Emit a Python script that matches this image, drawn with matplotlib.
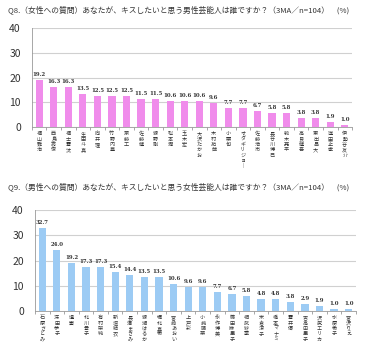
import numpy as np
import matplotlib
matplotlib.use("Agg")
import matplotlib.pyplot as plt

plt.rcParams['font.family'] = ['Noto Sans CJK JP', 'DejaVu Sans']

PINK = "#F08CEB"; BLUE = "#9CCBF4"; GRID = "#D0D0D0"; DARK = "#333333"

q8_title = "Q8.（女性への質問）あなたが、キスしたいと思う男性芸能人は誰ですか？（3MA／n=104）　(%)"
q8_names = ["福山雅治", "西島秀俊", "福士蒼汰", "生田斗真", "向井理", "竹野内豊", "斎藤工",
            "佐藤健", "綾野剛", "松本潤", "玉木宏", "大沢たかお", "木村拓哉", "小栗旬",
            "オダギリジョー", "佐藤浩市", "長谷川博己", "鈴木亮平", "高良健吾", "東出昌大",
            "窪田正孝", "伊勢谷友介"]
q8_vals = [19.2, 16.3, 16.3, 13.5, 12.5, 12.5, 12.5, 11.5, 11.5, 10.6, 10.6, 10.6,
           9.6, 7.7, 7.7, 6.7, 5.8, 5.8, 3.8, 3.8, 1.9, 1.0]

q9_title = "Q9.（男性への質問）あなたが、キスしたいと思う女性芸能人は誰ですか？（3MA／n=104）　(%)"
q9_names = ["石原さとみ", "深田恭子", "壇蜜", "北川景子", "有村架純", "新垣結衣", "長澤まさみ",
            "綾瀬はるか", "堀北真希", "宮崎あおい", "上戸彩", "小嶋陽菜", "永作博美",
            "篠田麻里子", "相武紗季", "米倉涼子", "橋本マナミ", "蒼井優", "吉高由里子",
            "沢尻エリカ", "水原希子", "宮沢りえ"]
q9_vals = [32.7, 24.0, 19.2, 17.3, 17.3, 15.4, 14.4, 13.5, 13.5, 10.6, 9.6, 9.6,
           7.7, 6.7, 5.8, 4.8, 4.8, 3.8, 2.9, 1.9, 1.0, 1.0]

yticks = [0, 10, 20, 30, 40]


def tate(s):
    # vertical (stacked) label, long vowel mark turned upright
    return "\n".join(s.replace("ー", "｜"))


def panel(ax, names, vals, color):
    x = np.arange(len(names))
    ax.bar(x, vals, width=0.5, color=color, zorder=3)
    for xi, v in zip(x, vals):
        ax.text(xi, v + 1.2, f"{v:.1f}", ha="center", va="bottom", fontsize=3.9,
                family="DejaVu Serif", fontweight="bold", color=DARK)
    ax.set_xlim(-0.5, len(names) - 0.5)
    ax.set_ylim(0, 40)
    ax.set_yticks(yticks)
    ax.tick_params(axis="y", length=0, labelsize=7.5, pad=8, colors=DARK)
    ax.yaxis.grid(True, color=GRID, linewidth=0.8, zorder=0)
    ax.set_xticks(x)
    ax.set_xticklabels([tate(n) for n in names], fontsize=3.7, linespacing=1.08,
                       va="top", color=DARK)
    ax.tick_params(axis="x", length=0, pad=3)
    ax.set_xticks(np.arange(len(names) + 1) - 0.5, minor=True)
    ax.tick_params(axis="x", which="minor", length=2.5, color="#999999")
    for s in ["top", "right"]:
        ax.spines[s].set_visible(False)
    ax.spines["left"].set_color("#999999")
    ax.spines["bottom"].set_color("#999999")
    ax.spines["left"].set_linewidth(0.6)
    ax.spines["bottom"].set_linewidth(0.6)


fig = plt.figure(figsize=(3.84, 3.56), dpi=100)
ax1 = fig.add_axes([0.083, 0.643, 0.834, 0.278])
ax2 = fig.add_axes([0.091, 0.126, 0.836, 0.284])
panel(ax1, q8_names, q8_vals, PINK)
panel(ax2, q9_names, q9_vals, BLUE)

fig.text(0.02, 0.972, q8_title, fontsize=5.6, va="center", ha="left", color=DARK)
fig.text(0.02, 0.474, q9_title, fontsize=5.6, va="center", ha="left", color=DARK)

fig.savefig("out.png", dpi=100, facecolor="white")
